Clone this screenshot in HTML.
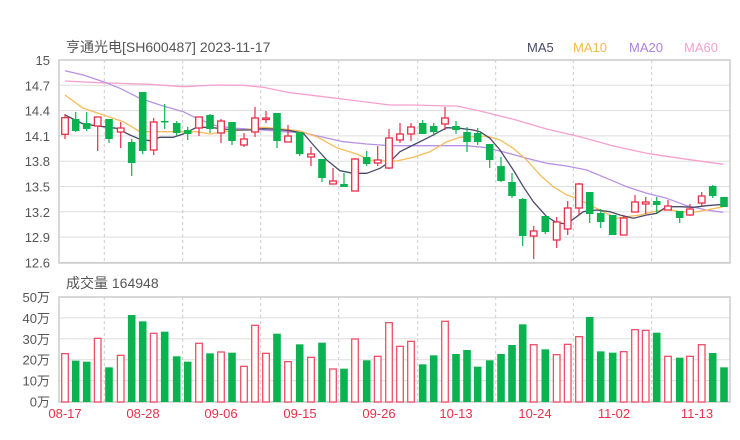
<!DOCTYPE html>
<html><head><meta charset="utf-8"><style>
html,body{margin:0;padding:0;background:#fff;}
svg{display:block;font-family:"Liberation Sans","Noto Sans CJK SC",sans-serif;}
</style></head><body>
<svg id="s" width="740" height="440" xmlns="http://www.w3.org/2000/svg">
<text x="66" y="52" font-size="14" fill="#555">亨通光电[SH600487] 2023-11-17</text>
<text x="527" y="52" font-size="13" fill="#4a4a6a">MA5</text>
<text x="573" y="52" font-size="13" fill="#f5b94a">MA10</text>
<text x="629" y="52" font-size="13" fill="#b07fe0">MA20</text>
<text x="684" y="52" font-size="13" fill="#f6a0cf">MA60</text>
<text x="66" y="288" font-size="14" fill="#555">成交量 164948</text>
<g id="g"></g>
</svg>
<script>
var g=document.getElementById('g'),h='';
// horizontal grid main
var ylab=['15','14.7','14.4','14.1','13.8','13.5','13.2','12.9','12.6'];
for(var i=0;i<9;i++){var y=60+i*25.3;h+='<line x1="59" x2="730" y1="'+y+'" y2="'+y+'" stroke="#ddd"/>';
h+='<text x="50" y="'+(y+5)+'" font-size="13" fill="#555" text-anchor="end">'+ylab[i]+'</text>';}
var vlab=['50万','40万','30万','20万','10万','0万'];
for(var i=0;i<6;i++){var y=297+i*20.9;h+='<line x1="59" x2="730" y1="'+y+'" y2="'+y+'" stroke="#ddd"/>';
h+='<text x="50" y="'+(y+5)+'" font-size="13" fill="#555" text-anchor="end">'+vlab[i]+'</text>';}
var vx=[104.3,182.7,260.7,338.7,417.7,495.7,573.3,651.7];
vx.forEach(function(x){h+='<line x1="'+x+'" x2="'+x+'" y1="60" y2="263" stroke="#ccc" stroke-dasharray="3,3"/>';
h+='<line x1="'+x+'" x2="'+x+'" y1="297" y2="402" stroke="#ccc" stroke-dasharray="3,3"/>';});
h+='<rect x="59" y="60" width="671" height="203" fill="none" stroke="#ccc" stroke-width="1.5"/>';
h+='<rect x="59" y="297" width="671" height="105" fill="none" stroke="#ccc" stroke-width="1.5"/>';
var xl=[['08-17',65],['08-28',143],['09-06',221],['09-15',300],['09-26',379],['10-13',456],['10-24',535],['11-02',614],['11-13',697]];
xl.forEach(function(a){h+='<text x="'+a[1]+'" y="418" font-size="13" fill="#e8304a" text-anchor="middle">'+a[0]+'</text>';});
// MA lines (zoom coords)
function pl(pts,ox,col){var s=pts.map(function(p){return (p[0]/3+ox).toFixed(1)+','+(p[1]/3+50).toFixed(1)}).join(' ');return s;}
var ma5a=[[45,195],[100,222],[160,230],[200,235],[240,255],[270,268],[300,272],[330,262],[370,262],[400,252],[440,232],[480,232],[520,237],[560,240],[600,240],[640,236],[680,238],[720,242],[760,250],[790,285],[830,330],[870,362],[910,370],[950,370],[990,355]];
var ma5b=[[30,335],[60,305],[100,285],[150,260],[200,233],[240,235],[280,240],[300,245],[330,265],[360,300],[400,360],[430,410],[460,455],[500,500],[530,518],[560,522],[590,500],[610,485],[650,480],[690,485],[720,495],[760,505],[800,495],[830,490],[860,470],[900,470],[940,472],[980,467],[1030,463]];
var ma10a=[[45,135],[100,175],[160,195],[220,215],[270,245],[320,245],[380,245],[440,245],[480,252],[520,245],[580,240],[640,232],[700,237],[750,243],[800,260],[860,293],[920,312],[960,330],[1020,334]];
var ma10b=[[50,333],[100,322],[150,305],[200,275],[240,262],[280,260],[320,258],[360,270],[400,295],[440,330],[480,375],[520,410],[560,435],[590,445],[630,465],[670,485],[710,505],[740,500],[780,495],[820,485],[860,478],[900,485],[940,487],[980,480],[1030,470]];
var ma20a=[[45,62],[100,75],[160,95],[210,115],[270,145],[330,165],[400,185],[440,205],[500,228],[560,235],[640,240],[700,245],[760,248],[820,262],[880,275],[950,282],[1020,287]];
var ma20b=[[100,287],[200,287],[260,287],[320,293],[380,308],[440,325],[500,340],[560,348],[620,360],[680,385],[740,410],[800,430],[860,445],[920,467],[980,480],[1030,487]];
var ma60a=[[45,93],[150,98],[300,103],[400,110],[500,105],[580,106],[640,112],[720,128],[820,140],[900,150],[1020,165]];
var ma60b=[[100,165],[200,168],[230,168],[300,183],[400,208],[500,237],[600,260],[700,288],[800,310],[900,325],[1030,343]];
function line(a,b,col){h+='<polyline fill="none" stroke="'+col+'" stroke-width="1.3" stroke-linejoin="round" points="'+pl(a,50)+' '+pl(b,380)+'"/>';}
line(ma60a,ma60b,'#f6a0cf');line(ma20a,ma20b,'#b990e6');line(ma10a,ma10b,'#f5bd5a');line(ma5a,ma5b,'#4a4a6a');
// candles: x, bodyTop, bodyBot, wickTop, wickBot, red?
var c=[[65,117.7,134.3,114,139,1],[75.7,119,131,112,132,0],[86.7,123,129,112,131,0],[97.7,117,126,117,151,1],[109,119,139,119,143,0],[120.7,128,132,122,148,1],[131.7,142,163,139,176,0],[142.7,92,151,92,154,0],[153.7,122,150,118,155,1],[164.7,121,122.5,104,129,0],[176.7,123,133,121,136,0],[187.7,130,134,127,140,0],[199,117,128,117,136,1],[210,115,129,114,133,0],[221,121,133,119,143,1],[232,122,141,122,145,0],[244,139,145,133,147,1],[255,118,132,107,137,1],[266,118,119.5,111,123,1],[277,113,141,113,148,0],[288,136,142,125,142,1],[299.7,132,154,132,156,0],[311,154,157,147,166,1],[322,159,178,159,182,0],[333,181,184,168,184,1],[344,184,187,173,187,0],[355,159,191,158,191,1],[366.7,157,164,151,166,0],[377.7,160,163,146,166,1],[389,138,168,129,169,1],[400,134,140,123,143,1],[411,127,134,123,141,1],[422.7,123,134,120,134,0],[433.7,126,132,123,136,0],[445,118,124,107,130,1],[456,126,130,121,134,0],[467,132,142,127,152,0],[477.7,133,142,128,145,0],[489.7,144,160,144,168,0],[501,166,181,157,182,0],[512,182,196,173,198,0],[522.7,199,236,198,246,0],[533.7,231,236,226,259,1],[545.3,216,232,216,234,0],[556.7,222,240,217,248,1],[567.7,208,229,201,235,1],[579,184,208,183,215,1],[589.7,192,214,192,223,0],[600.7,213,222,209,228,0],[612.7,215,235,215,235,0],[623.7,218,235,215,235,1],[635,202,212,195,212,1],[645.7,202,204,197,214,1],[656.7,201,205,197,213,0],[668,206,210,200,210,1],[679.7,211,218,211,223,0],[690,209,215,204,216,1],[701.7,196,203,192,206,1],[712.7,186,196,185,198,0],[724,197,207,197,207,0]];
var vt=[206,227,230,160,247,211,90,109,145,140,214,230,175,205,201,203,244,121,205,146,230,178,217,173,252,251,162,226,214,113,184,169,238,211,109,207,195,245,226,207,180,118,179,193,209,178,155,96,199,203,200,134,136,143,214,218,214,179,204,247];
c.forEach(function(k,i){var x=k[0],r=k[5],col=r?'#e8304a':'#0ab350';
h+='<line x1="'+x+'" x2="'+x+'" y1="'+k[3]+'" y2="'+k[4]+'" stroke="'+col+'" stroke-width="1.2"/>';
if(r)h+='<rect x="'+(x-3.3)+'" y="'+k[1]+'" width="6.6" height="'+Math.max(1,k[2]-k[1])+'" fill="#fff" stroke="'+col+'" stroke-width="1.3"/>';
else h+='<rect x="'+(x-3.8)+'" y="'+k[1]+'" width="7.6" height="'+Math.max(1.5,k[2]-k[1])+'" fill="'+col+'"/>';
var yt=vt[i]/3+285;
if(r)h+='<rect x="'+(x-3.3)+'" y="'+yt+'" width="6.6" height="'+(402-yt)+'" fill="#fff" stroke="#ee5068" stroke-width="1.3"/>';
else h+='<rect x="'+(x-3.8)+'" y="'+yt+'" width="7.6" height="'+(402-yt)+'" fill="'+col+'"/>';
});
g.innerHTML=h;
</script>
</body></html>
